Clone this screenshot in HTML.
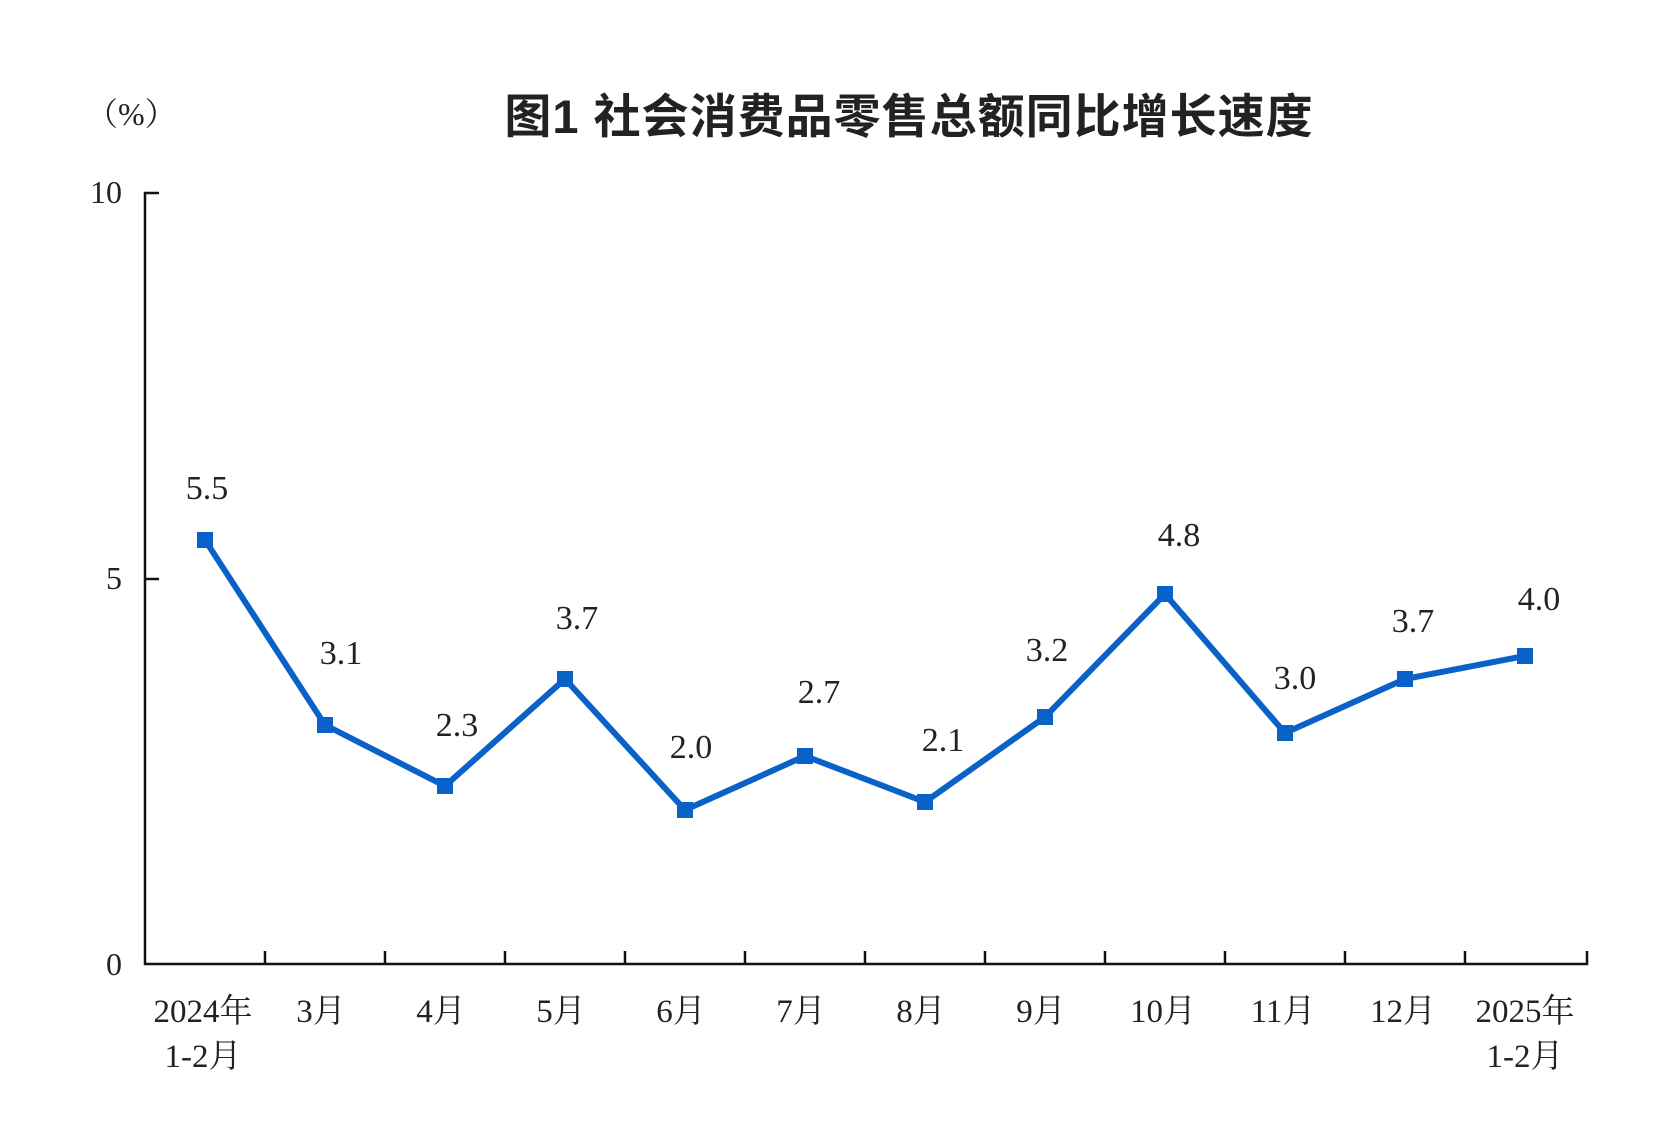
<!DOCTYPE html>
<html><head><meta charset="utf-8"><style>
html,body{margin:0;padding:0;background:#fff;}
svg{display:block;}
text{font-family:"Liberation Serif","Noto Serif CJK SC",serif;fill:#222;}
</style></head><body>
<svg width="1662" height="1146" viewBox="0 0 1662 1146" xmlns="http://www.w3.org/2000/svg">
<text x="909" y="133" text-anchor="middle" style="font-family:'Liberation Sans','Noto Sans CJK SC',sans-serif;font-weight:bold;font-size:47px;letter-spacing:1px;fill:#222">图1  社会消费品零售总额同比增长速度</text>
<text x="86" y="125" style="font-size:32px">（%）</text>
<g stroke="#111" stroke-width="2.5" fill="none">
<path d="M159 193 H145 V964 H1587 V951"/>
<path d="M145 579 H159"/>
<path d="M265 964V951M385 964V951M505 964V951M625 964V951M745 964V951M865 964V951M985 964V951M1105 964V951M1225 964V951M1345 964V951M1465 964V951"/>
</g>
<g style="font-size:32px" text-anchor="end">
<text x="122" y="203">10</text>
<text x="122" y="589">5</text>
<text x="122" y="975">0</text>
</g>
<polyline fill="none" stroke="#0A62C9" stroke-width="6" stroke-linejoin="miter" points="205,540 325,725 445,786 565,679 685,810 805,756 925,802 1045,717 1165,594 1285,733 1405,679 1525,656"/>
<g fill="#0A62C9">
<rect x="197" y="532" width="16" height="16"/><rect x="317" y="717" width="16" height="16"/><rect x="437" y="778" width="16" height="16"/><rect x="557" y="671" width="16" height="16"/><rect x="677" y="802" width="16" height="16"/><rect x="797" y="748" width="16" height="16"/><rect x="917" y="794" width="16" height="16"/><rect x="1037" y="709" width="16" height="16"/><rect x="1157" y="586" width="16" height="16"/><rect x="1277" y="725" width="16" height="16"/><rect x="1397" y="671" width="16" height="16"/><rect x="1517" y="648" width="16" height="16"/>
</g>
<g style="font-size:34px" text-anchor="middle">
<text x="207" y="499">5.5</text>
<text x="341" y="664">3.1</text>
<text x="457" y="736">2.3</text>
<text x="577" y="629">3.7</text>
<text x="691" y="758">2.0</text>
<text x="819" y="703">2.7</text>
<text x="943" y="751">2.1</text>
<text x="1047" y="661">3.2</text>
<text x="1179" y="546">4.8</text>
<text x="1295" y="689">3.0</text>
<text x="1413" y="632">3.7</text>
<text x="1539" y="610">4.0</text>
</g>
<g style="font-size:33px" text-anchor="middle">
<text x="203" y="1022">2024年</text><text x="203" y="1067">1-2月</text>
<text x="321" y="1022">3月</text>
<text x="441" y="1022">4月</text>
<text x="561" y="1022">5月</text>
<text x="681" y="1022">6月</text>
<text x="801" y="1022">7月</text>
<text x="921" y="1022">8月</text>
<text x="1041" y="1022">9月</text>
<text x="1163" y="1022">10月</text>
<text x="1283" y="1022">11月</text>
<text x="1403" y="1022">12月</text>
<text x="1525" y="1022">2025年</text><text x="1525" y="1067">1-2月</text>
</g>
</svg>
</body></html>
